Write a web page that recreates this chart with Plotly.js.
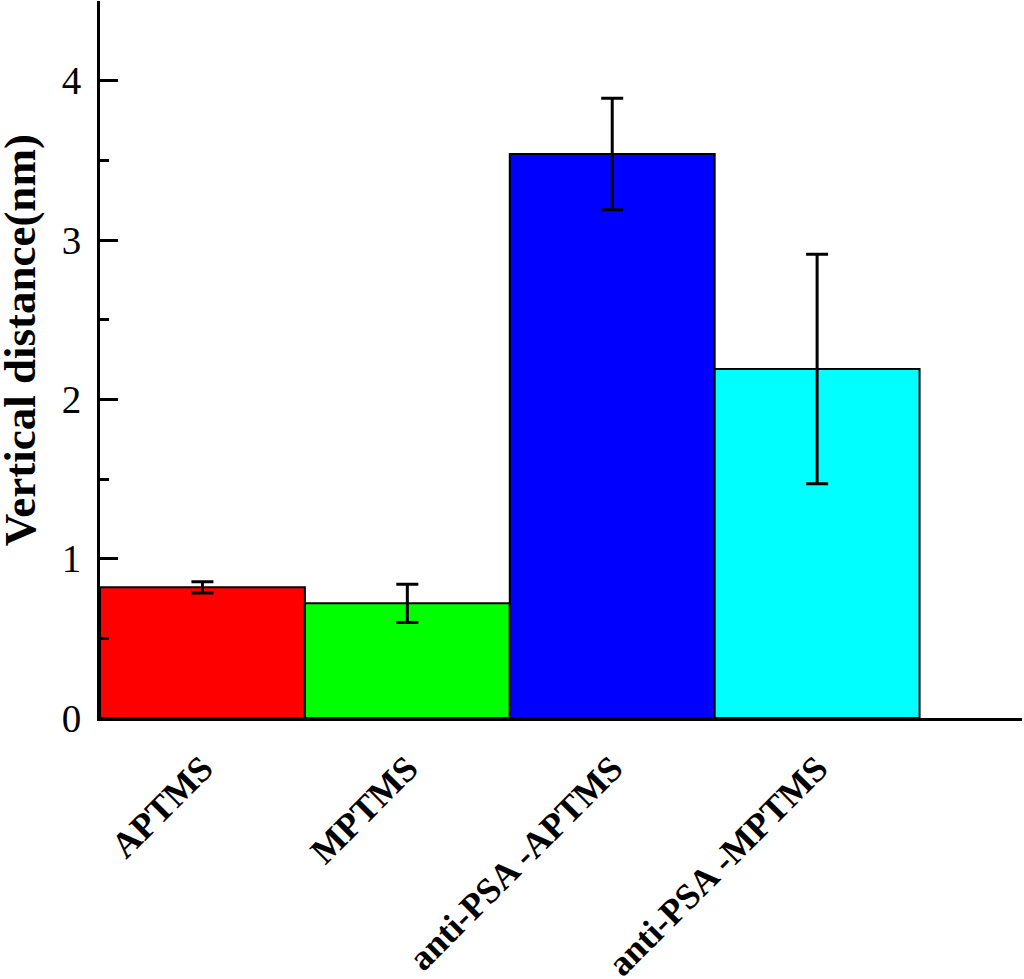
<!DOCTYPE html>
<html>
<head>
<meta charset="utf-8">
<script src="https://cdn.plot.ly/plotly-3.0.1.min.js"></script>
<style>
  html, body { margin: 0; padding: 0; background: #fff; }
  #chart { width: 1024px; height: 979px; }
</style>
</head>
<body>
<div id="chart"></div>
<script>
// data
let categories = ['APTMS', 'MPTMS', 'anti-PSA -APTMS', 'anti-PSA -MPTMS'];
let values = [0.82, 0.72, 3.54, 2.19];
let errors = [0.035, 0.12, 0.35, 0.72];
let colors = ['#ff0000', '#00ff00', '#0000ff', '#00ffff'];
let yTitle = 'Vertical distance(nm)';

let xPos = categories.map((c, i) => i);

let trace = {
  x: xPos,
  y: values,
  type: 'bar',
  width: 1,
  marker: { color: colors, line: { color: '#000', width: 2 } },
  error_y: { type: 'data', array: errors, visible: true, color: '#000', thickness: 3, width: 11 },
  hoverinfo: 'none'
}

let layout = {
  width: 1024,
  height: 979,
  margin: { l: 100, r: 2, t: 1, b: 261 },
  paper_bgcolor: '#fff',
  plot_bgcolor: '#fff',
  showlegend: false,
  font: { family: 'Liberation Serif, Times New Roman, serif', color: '#000' },
  xaxis: {
    range: [-0.5, 4.0],
    tickmode: 'array',
    tickvals: xPos,
    ticktext: categories,
    tickangle: -45,
    ticks: '',
    tickfont: { size: 36, family: 'Liberation Serif', weight: 'bold' },
    ticklabelstandoff: 12,
    showline: true,
    linecolor: '#000',
    linewidth: 3,
    showgrid: false,
    zeroline: false,
    fixedrange: true
  },
  yaxis: {
    range: [0, 4.5],
    tickmode: 'array',
    tickvals: [0, 1, 2, 3, 4],
    ticks: 'inside',
    ticklen: 18,
    tickwidth: 3,
    tickcolor: '#000',
    tickfont: { size: 39 },
    ticklabelstandoff: 8,
    minor: { tickmode: 'array', tickvals: [0.5, 1.5, 2.5, 3.5, 4.5], ticks: 'inside', ticklen: 9, tickwidth: 3, tickcolor: '#000', showgrid: false },
    showline: true,
    linecolor: '#000',
    linewidth: 3,
    showgrid: false,
    zeroline: false,
    fixedrange: true
  },
  annotations: [{
    text: yTitle,
    xref: 'paper', yref: 'paper',
    x: 0, y: 0.527,
    xanchor: 'center', yanchor: 'middle',
    xshift: -80,
    textangle: -90,
    showarrow: false,
    font: { size: 45, weight: 'bold' }
  }]
}

Plotly.newPlot('chart', [trace], layout, { displayModeBar: false, staticPlot: true });
</script>
</body>
</html>
